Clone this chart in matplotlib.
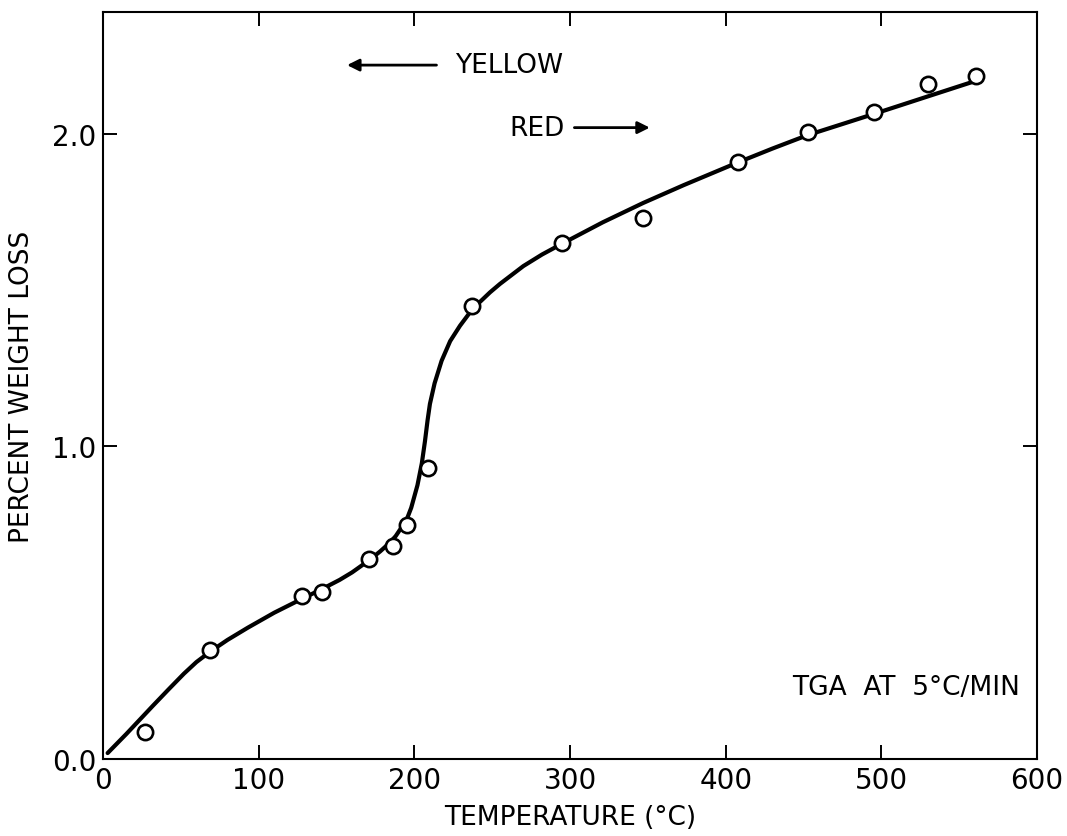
import matplotlib
matplotlib.use("Agg")
import matplotlib.pyplot as plt
from matplotlib.ticker import MultipleLocator

plt.rcParams['font.family'] = ['DejaVu Sans']

# measured TGA points (temperature in C, percent weight loss)
temp_pts = [27, 69, 128, 141, 171, 186, 195, 209, 237, 295, 347, 408, 453, 495, 530, 561]
loss_pts = [0.086, 0.35, 0.52, 0.535, 0.64, 0.68, 0.75, 0.93, 1.45, 1.65, 1.73, 1.91, 2.005, 2.07, 2.16, 2.185]

# smooth curve drawn through the data
temp_curve = [3, 15, 32, 42, 52, 60, 69, 80, 93, 110, 128, 140, 152, 160, 171, 178,
              184, 188, 195, 198, 202, 204.8, 206.8, 208.5, 210, 213, 217.5, 223,
              229.3, 235, 241, 248.6, 255, 270, 282, 295, 321, 347, 373, 407,
              430, 452.6, 474, 494.7, 512, 530.5, 559]
loss_curve = [0.019, 0.08, 0.17, 0.222, 0.273, 0.310, 0.344, 0.381, 0.420, 0.468,
              0.513, 0.542, 0.573, 0.597, 0.636, 0.664, 0.691, 0.713, 0.765, 0.804,
              0.876, 0.946, 1.016, 1.084, 1.136, 1.202, 1.274, 1.337, 1.386, 1.424,
              1.457, 1.493, 1.520, 1.577, 1.614, 1.649, 1.717, 1.779, 1.836, 1.907,
              1.953, 1.996, 2.030, 2.063, 2.091, 2.121, 2.167]

fig = plt.figure(figsize=(10.67, 8.37), dpi=100)
ax = fig.add_axes([0.0965, 0.092, 0.8755, 0.8925])

ax.plot(temp_curve, loss_curve, color='black', lw=3.0,
        solid_joinstyle='round', solid_capstyle='round', zorder=2)
ax.plot(temp_pts, loss_pts, 'o', ms=11, mfc='white', mec='black', mew=1.9, zorder=3)

ax.set_xlim(0, 600)
ax.set_ylim(0, 2.39)
ax.xaxis.set_major_locator(MultipleLocator(100))
ax.yaxis.set_major_locator(MultipleLocator(1.0))
ax.yaxis.set_major_formatter(plt.FormatStrFormatter('%.1f'))
ax.tick_params(direction='in', length=10, width=1.4, top=True, right=True,
               labelsize=20, pad=5)
for s in ax.spines.values():
    s.set_linewidth(1.5)

ax.set_xlabel('TEMPERATURE (°C)', fontsize=19, labelpad=7)
ax.set_ylabel('PERCENT WEIGHT LOSS', fontsize=19, labelpad=12)

# colour change annotations
ax.annotate('', xy=(155, 2.22), xytext=(216, 2.22),
            arrowprops=dict(arrowstyle='-|>', color='black', lw=2, mutation_scale=18))
ax.text(226, 2.22, 'YELLOW', fontsize=19, va='center', ha='left')
ax.text(261, 2.02, 'RED', fontsize=19, va='center', ha='left')
ax.annotate('', xy=(353, 2.02), xytext=(301, 2.02),
            arrowprops=dict(arrowstyle='-|>', color='black', lw=2, mutation_scale=18))

ax.text(589, 0.23, 'TGA  AT  5°C/MIN', fontsize=19, va='center', ha='right')

fig.savefig('out.png', dpi=100)
